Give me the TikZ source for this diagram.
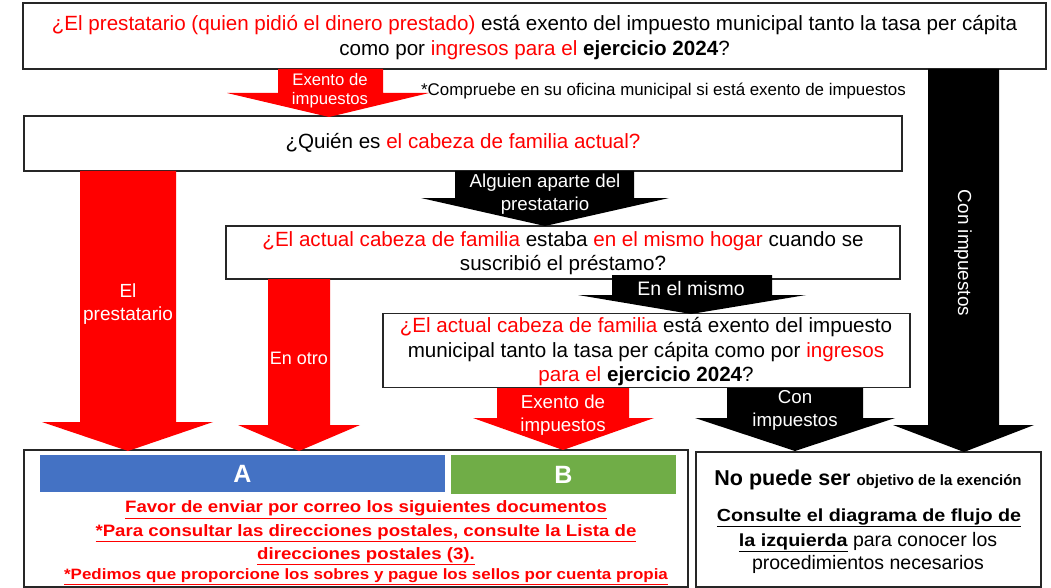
\documentclass[tikz,border=0pt]{standalone}
\usepackage{fontspec}
\setmainfont{Liberation Sans}
\newfontfamily\wb[FakeStretch=1.13]{Liberation Sans}
\definecolor{rd}{RGB}{255,0,0}
\definecolor{ablue}{RGB}{68,114,196}
\definecolor{bgreen}{RGB}{112,173,71}
\newcommand{\R}[1]{\textcolor{rd}{#1}}
\newcommand{\fs}[2]{\fontsize{#1}{#2}\selectfont}
\newcommand{\ul}[1]{\vtop{\hbox{#1}\kern1.2pt\hrule height1.3pt}}
\begin{document}
\begin{tikzpicture}[x=1pt,y=-1pt,
  box/.style={draw=black!85,line width=1.8pt,fill=white,inner sep=0pt},
  txt/.style={align=center,inner sep=0pt,font=\fs{20.6}{24.5}},
  lbl/.style={align=center,inner sep=0pt,text=white,font=\fs{18.7}{23}},
  redarrow/.style={fill=rd},
  blkarrow/.style={fill=black}]
\useasboundingbox (0,0) rectangle (1051,588);
\fill[white] (0,0) rectangle (1051,588);

% ---------- boxes ----------
\node[box,minimum width=1023pt,minimum height=66pt] (q1) at (534.5,36) {};
\node[box,minimum width=878pt,minimum height=55pt] (q2) at (463,143.5) {};
\node[box,minimum width=674pt,minimum height=53pt] (q3) at (563,252.5) {};
\node[box,minimum width=527pt,minimum height=74pt] (q4) at (646.5,350.5) {};
\node[box,minimum width=664pt,minimum height=137pt] (ra) at (356,518.5) {};
\node[box,minimum width=345pt,minimum height=135pt] (rb) at (868.5,519.5) {};

% ---------- block arrows ----------
% top red: Exento de impuestos
\fill[redarrow] (278,69) -- (383,69) -- (383,93) -- (429,93) -- (329,117) -- (227,93) -- (278,93) -- cycle;
% big black: Con impuestos
\fill[blkarrow] (928,69) -- (999,69) -- (999,425) -- (1034,425) -- (964,452) -- (893,425) -- (928,425) -- cycle;
% black: Alguien aparte del prestatario
\fill[blkarrow] (455,171) -- (634,171) -- (634,198) -- (669,198) -- (545,226) -- (421,198) -- (455,198) -- cycle;
% black: En el mismo
\fill[blkarrow] (612,275) -- (772,275) -- (772,295) -- (806,295) -- (691,314) -- (578,295) -- (612,295) -- cycle;
% red: El prestatario
\fill[redarrow] (80,171) -- (176,171) -- (176,422) -- (213,422) -- (128,451) -- (42,422) -- (80,422) -- cycle;
% red: En otro
\fill[redarrow] (268,279) -- (330,279) -- (330,425) -- (360,425) -- (299,451) -- (238,425) -- (268,425) -- cycle;
% red: Exento de impuestos (bottom)
\fill[redarrow] (497,388) -- (629,388) -- (629,418) -- (654,418) -- (563,450) -- (473,418) -- (497,418) -- cycle;
% black: Con impuestos (small)
\fill[blkarrow] (727,388) -- (863,388) -- (863,418) -- (895,418) -- (795,451) -- (695,418) -- (727,418) -- cycle;

% ---------- texts in boxes ----------
\node[txt,font=\fs{20.6}{25}] (t1) at (534.5,37.5) {\R{¿El prestatario (quien pidió el dinero prestado)} está exento del impuesto municipal tanto la tasa per cápita\\como por \R{ingresos para el} \textbf{ejercicio 2024}?};
\node[inner sep=0pt,font=\fs{16.9}{20}] (note) at (663.5,91) {*Compruebe en su oficina municipal si está exento de impuestos};
\node[txt] (t2) at (463,143) {¿Quién es \R{el cabeza de familia actual?}};
\node[txt] (t3) at (563,253) {\R{¿El actual cabeza de familia} estaba \R{en el mismo hogar} cuando se\\suscribió el préstamo?};
\node[txt] (t4) at (646,352) {\R{¿El actual cabeza de familia} está exento del impuesto\\municipal tanto la tasa per cápita como por \R{ingresos}\\\R{para el} \textbf{ejercicio 2024}?};

% ---------- arrow labels ----------
\node[lbl,font=\fs{16.7}{19}] (l1) at (330,91) {Exento de\\impuestos};
\node[lbl] (l2) at (545,194.5) {Alguien aparte del\\prestatario};
\node[lbl,font=\fs{19.5}{23}] (l3) at (691,289) {En el mismo};
\node[lbl,font=\fs{19}{22.5}] (l4) at (128,304) {El\\prestatario};
\node[lbl,font=\fs{18}{22}] (l5) at (299,358) {En otro};
\node[lbl] (l6) at (563,415) {Exento de\\impuestos};
\node[lbl] (l7) at (795,410.5) {Con\\impuestos};
\node[lbl,font=\fs{18.9}{22},rotate=-90] (l8) at (963,253) {Con impuestos};

% ---------- result A/B ----------
\node[fill=ablue,minimum width=405pt,minimum height=37pt,inner sep=0pt,text=white,font=\fs{25}{25}\bfseries] (A) at (242.5,473.5) {A};
\node[fill=bgreen,minimum width=225pt,minimum height=39pt,inner sep=0pt,text=white,font=\fs{25}{25}\bfseries] (B) at (563.5,474.5) {B};
\node[inner sep=0pt,text=rd,font=\wb\fs{16.5}{20}\bfseries] (a1) at (366,510) {\ul{Favor de enviar por correo los siguientes documentos}};
\node[inner sep=0pt,text=rd,font=\wb\fs{16.5}{20}\bfseries] (a2) at (366,533) {\ul{*Para consultar las direcciones postales, consulte la Lista de}};
\node[inner sep=0pt,text=rd,font=\wb\fs{16.5}{20}\bfseries] (a3) at (366,556) {\ul{direcciones postales (3).}};
\node[inner sep=0pt,text=rd,font=\wb\fs{15}{18}\bfseries] (a4) at (366,577) {\ul{*Pedimos que proporcione los sobres y pague los sellos por cuenta propia}};

% ---------- right result ----------
\node[inner sep=0pt] (b1) at (868,480) {{\fs{21.5}{24}\bfseries No puede ser\ }{\fs{15}{18}\bfseries objetivo de la exención}};
\node[inner sep=0pt,font=\wb\fs{17.5}{21}\bfseries] (b2) at (869,518) {\ul{Consulte el diagrama de flujo de}};
\node[inner sep=0pt,font=\fs{19.5}{22}] (b3) at (868,542) {\ul{\wb\fs{17.5}{21}\bfseries la izquierda} para conocer los};
\node[inner sep=0pt,font=\fs{19.5}{22}] (b4) at (868,564) {procedimientos necesarios};
\end{tikzpicture}
\end{document}
